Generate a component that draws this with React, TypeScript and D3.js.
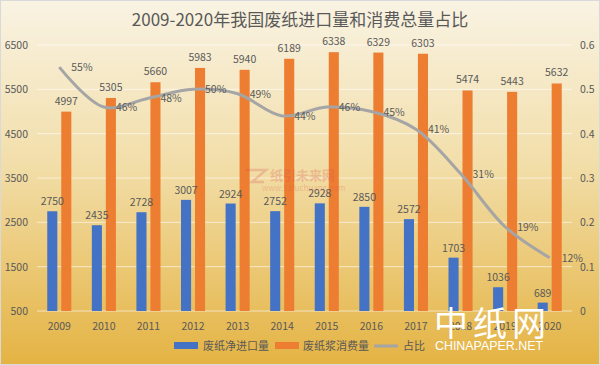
import React from "react";
import * as d3 from "d3";

const years = ["2009", "2010", "2011", "2012", "2013", "2014", "2015", "2016", "2017", "2018", "2019", "2020"];
const importVol = [2750, 2435, 2728, 3007, 2924, 2752, 2928, 2850, 2572, 1703, 1036, 689];
const pulpUse = [4997, 5305, 5660, 5983, 5940, 6189, 6338, 6329, 6303, 5474, 5443, 5632];
const share = [0.55, 0.46, 0.48, 0.5, 0.49, 0.44, 0.46, 0.45, 0.41, 0.31, 0.19, 0.12];
const leftTicks = [500, 1500, 2500, 3500, 4500, 5500, 6500];
const rightTicks = [0, 0.1, 0.2, 0.3, 0.4, 0.5, 0.6];

const W = 600;
const H = 365;
const plot = { left: 37, right: 572, top: 45, bottom: 311 };
const font = "'Noto Sans CJK SC', 'Noto Sans', sans-serif";
const txt = "#595959";

export default function App() {
  const x0 = d3
    .scaleBand<string>()
    .domain(years)
    .range([plot.left, plot.right])
    .paddingInner(0.46)
    .paddingOuter(0.23);
  const x1 = d3
    .scaleBand<string>()
    .domain(["a", "b"])
    .range([0, x0.bandwidth()])
    .paddingInner(0.28);
  const yL = d3.scaleLinear().domain([500, 6500]).range([plot.bottom, plot.top]);
  const yR = d3.scaleLinear().domain([0, 0.6]).range([plot.bottom, plot.top]);

  const cx = (y: string) => (x0(y) as number) + x0.bandwidth() / 2;
  const line = d3
    .line<number>()
    .x((_, i) => cx(years[i]))
    .y((d) => yR(d))
    .curve(d3.curveCatmullRom.alpha(0.5));

  return (
    <svg width={W} height={H} style={{ position: "absolute", left: 0, top: 0 }} fontFamily={font}>
      <defs>
        <linearGradient id="bg" x1="0" y1="0" x2="0" y2="1">
          <stop offset="0" stopColor="#f9f3e3" />
          <stop offset="0.45" stopColor="#f2dea9" />
          <stop offset="1" stopColor="#e4b343" />
        </linearGradient>
      </defs>
      <rect x={0.5} y={0.5} width={W - 1} height={H - 1} fill="url(#bg)" stroke="#d9d9d9" />

      <text x={300} y={26} textAnchor="middle" fontSize={17} fill={txt}>
        2009-2020年我国废纸进口量和消费总量占比
      </text>

      {/* grid */}
      {leftTicks.map((t) => (
        <g key={t}>
          <line x1={plot.left} x2={plot.right} y1={yL(t)} y2={yL(t)} stroke="#fff" strokeOpacity={0.6} strokeWidth={1} />
          <text x={28} y={yL(t) + 4} textAnchor="end" fontSize={10.5} fill={txt}>
            {t}
          </text>
        </g>
      ))}
      {rightTicks.map((t) => (
        <text key={t} x={580} y={yR(t) + 4} fontSize={10.5} fill={txt}>
          {t}
        </text>
      ))}

      {/* bars */}
      {years.map((y, i) => {
        const bx = x0(y) as number;
        const ax = bx + (x1("a") as number);
        const ox = bx + (x1("b") as number);
        const bw = x1.bandwidth();
        return (
          <g key={y}>
            <rect x={ax} y={yL(importVol[i])} width={bw} height={plot.bottom - yL(importVol[i])} fill="#4472c4" />
            <rect x={ox} y={yL(pulpUse[i])} width={bw} height={plot.bottom - yL(pulpUse[i])} fill="#ed7d31" />
            <text x={ax + bw / 2} y={yL(importVol[i]) - 6} textAnchor="middle" fontSize={10.5} fill={txt}>
              {importVol[i]}
            </text>
            <text x={ox + bw / 2} y={yL(pulpUse[i]) - 7} textAnchor="middle" fontSize={10.5} fill={txt}>
              {pulpUse[i]}
            </text>
            <text x={cx(y)} y={330} textAnchor="middle" fontSize={10.5} fill={txt}>
              {y}
            </text>
          </g>
        );
      })}

      {/* faint watermark over the bars */}
      <g opacity={0.25} fill="#d9534f">
        <path d="M246,170 L266,170 L252,182 L264,182" fill="none" stroke="#d9534f" strokeWidth={2.5} />
        <text x={270} y={180} fontSize={13} fontWeight="bold">纸引未来网</text>
        <text x={262} y={191} fontSize={8}>www.51fuchuang.com</text>
      </g>

      <path d={line(share) || ""} fill="none" stroke="#a5a5a5" strokeWidth={3} strokeLinejoin="round" />
      {share.map((s, i) => (
        <text key={i} x={cx(years[i]) + 12} y={yR(s) + 4} fontSize={10.5} fill={txt}>
          {Math.round(s * 100)}%
        </text>
      ))}

      {/* legend */}
      <g fontSize={11} fill={txt}>
        <rect x={174} y={342} width={24} height={7} fill="#4472c4" />
        <text x={203} y={350}>废纸净进口量</text>
        <rect x={275} y={342} width={24} height={7} fill="#ed7d31" />
        <text x={303} y={350}>废纸浆消费量</text>
        <line x1={374} x2={398} y1={346} y2={346} stroke="#a5a5a5" strokeWidth={3} />
        <text x={403} y={350}>占比</text>
      </g>

      {/* site mark */}
      <g fill="#fff">
        <text x={434} y={336} fontSize={34} textLength={112} lengthAdjust="spacing">
          中纸网
        </text>
        <text x={435} y={350} fontSize={12.5} fontFamily="'Liberation Sans', Arial, sans-serif" textLength={108} lengthAdjust="spacingAndGlyphs">
          CHINAPAPER.NET
        </text>
      </g>
    </svg>
  );
}
